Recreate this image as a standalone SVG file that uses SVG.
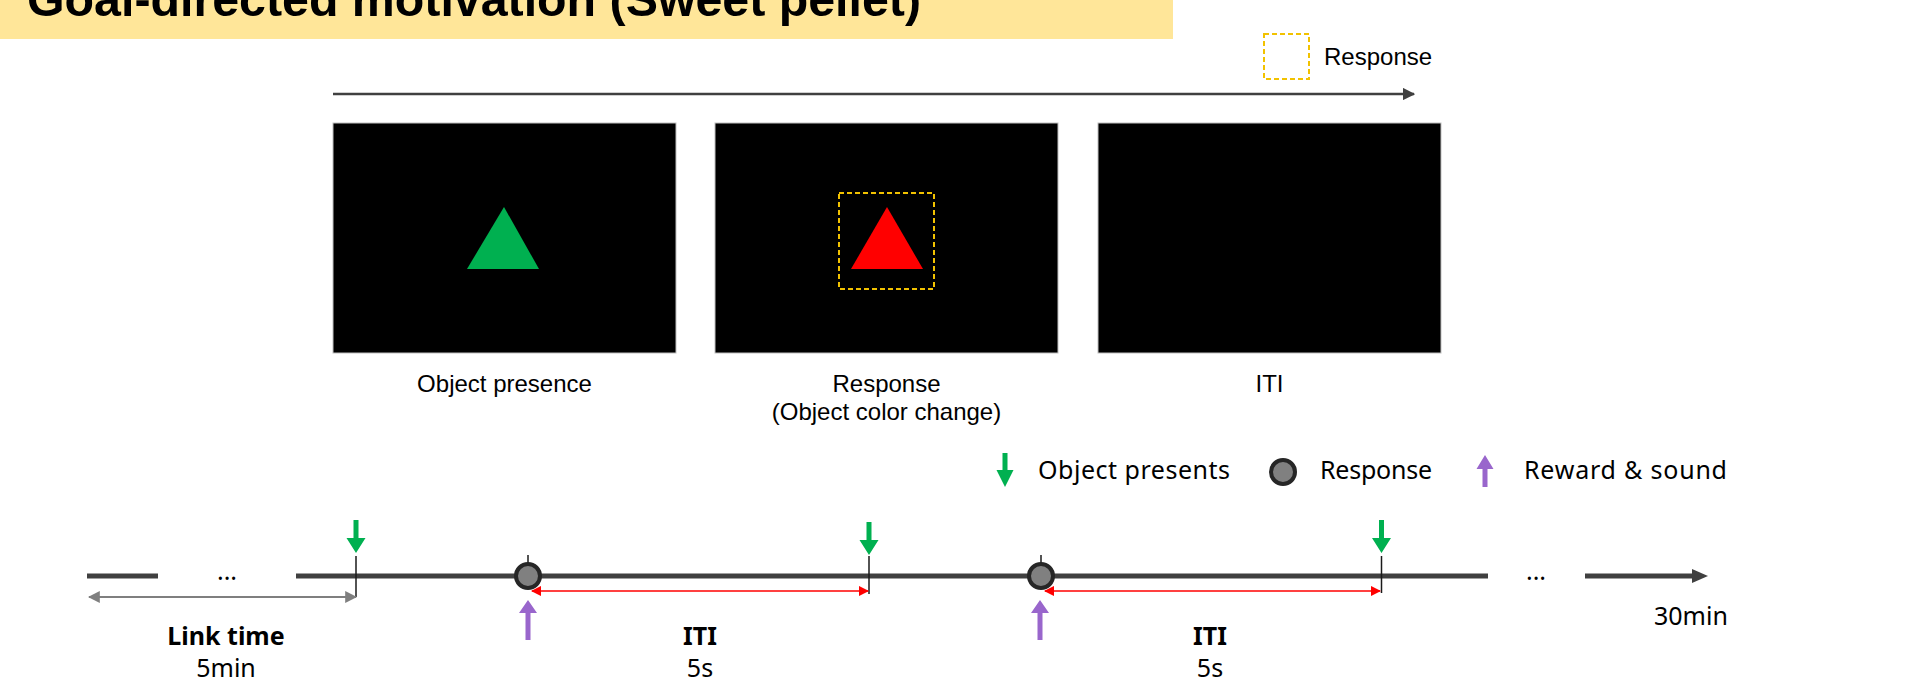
<svg xmlns="http://www.w3.org/2000/svg" width="1920" height="687" viewBox="0 0 1920 687">
<style>
.arial{font-family:"Liberation Sans",Arial,sans-serif;font-size:24px;fill:#000}
.noto{font-family:"Noto Sans","DejaVu Sans",sans-serif;font-size:25px;fill:#000}
.bold{font-weight:bold}
.panel{fill:#000;stroke:#BFBFBF;stroke-width:1}
.dash{fill:none;stroke:#F2C200;stroke-width:2;stroke-dasharray:5 3}
.tl{stroke:#404040;stroke-width:5;fill:none}
.tick{stroke:#1a1a1a;stroke-width:1.5}
.green{fill:#00B050}
.purple{fill:#9966CC}
.resp{fill:#808080;stroke:#262626;stroke-width:4}
</style>
<defs>
<marker id="ahDark" viewBox="0 0 10 10" refX="9" refY="5" markerWidth="5" markerHeight="5" orient="auto"><path d="M0,0 L10,5 L0,10 z" fill="#404040"/></marker>
<marker id="ahGray" viewBox="0 0 10 10" refX="9" refY="5" markerWidth="6" markerHeight="6" orient="auto-start-reverse"><path d="M0,0 L10,5 L0,10 z" fill="#7F7F7F"/></marker>
<marker id="ahRed" viewBox="0 0 10 10" refX="9" refY="5" markerWidth="7" markerHeight="7" orient="auto-start-reverse"><path d="M0,0 L10,5 L0,10 z" fill="#FF0000"/></marker>
</defs>
<rect width="1920" height="687" fill="#fff"/>

<g id="title">
<rect x="0" y="0" width="1173" height="39" fill="#FFE699"/>
<text x="27" y="16" font-family="Liberation Sans,Arial,sans-serif" font-size="48" font-weight="bold" textLength="894" lengthAdjust="spacingAndGlyphs">Goal-directed motivation (Sweet pellet)</text>
</g>

<g id="legend-top">
<rect class="dash" x="1264" y="34" width="45" height="45"/>
<text class="arial" x="1324" y="65">Response</text>
</g>

<g id="connectors">
<line x1="333" y1="94" x2="1414" y2="94" stroke="#404040" stroke-width="2.5" marker-end="url(#ahDark)"/>
<line class="tl" x1="87" y1="576" x2="158" y2="576"/>
<line class="tl" x1="296" y1="576" x2="1488" y2="576"/>
<line class="tl" x1="1585" y1="576" x2="1695" y2="576"/>
<polygon points="1692,569 1708,576 1692,583" fill="#404040"/>
<line class="tick" x1="356" y1="556" x2="356" y2="597"/>
<line class="tick" x1="869" y1="556" x2="869" y2="594"/>
<line class="tick" x1="1381.5" y1="556" x2="1381.5" y2="593"/>
<line class="tick" x1="528" y1="555" x2="528" y2="564"/>
<line class="tick" x1="1041" y1="555" x2="1041" y2="564"/>
<line x1="89" y1="597" x2="356" y2="597" stroke="#7F7F7F" stroke-width="2" marker-start="url(#ahGray)" marker-end="url(#ahGray)"/>
<line x1="532" y1="591" x2="868" y2="591" stroke="#FF0000" stroke-width="1.5" marker-start="url(#ahRed)" marker-end="url(#ahRed)"/>
<line x1="1045" y1="591" x2="1380" y2="591" stroke="#FF0000" stroke-width="1.5" marker-start="url(#ahRed)" marker-end="url(#ahRed)"/>
</g>

<g id="panel-object">
<rect class="panel" x="333" y="123" width="343" height="230"/>
<polygon points="504,207 467,269 539,269" fill="#00B050"/>
<text class="arial" x="504.5" y="392" text-anchor="middle">Object presence</text>
</g>

<g id="panel-response">
<rect class="panel" x="715" y="123" width="343" height="230"/>
<polygon points="887,207 851,269 923,269" fill="#FF0000"/>
<rect class="dash" x="839" y="193" width="95" height="96"/>
<text class="arial" x="886.5" y="392" text-anchor="middle">Response</text>
<text class="arial" x="886.5" y="420" text-anchor="middle">(Object color change)</text>
</g>

<g id="panel-iti">
<rect class="panel" x="1098" y="123" width="343" height="230"/>
<text class="arial" x="1269.5" y="392" text-anchor="middle">ITI</text>
</g>

<g id="legend-bottom">
<path class="green" d="M1002.5,453 h5 v17 h6 l-8.5,17 l-8.5,-17 h6 z"/>
<text class="noto" x="1038" y="479" textLength="192" lengthAdjust="spacing">Object presents</text>
<circle class="resp" cx="1283" cy="472" r="12"/>
<text class="noto" x="1320" y="479" textLength="112" lengthAdjust="spacing">Response</text>
<path class="purple" d="M1485,455 l8.5,14 h-6 v18 h-5 v-18 h-6 z"/>
<text class="noto" x="1524" y="479" textLength="203" lengthAdjust="spacing">Reward &amp; sound</text>
</g>

<g id="events">
<path class="green" d="M353.5,520 h5 v18 h7 l-9.5,15 l-9.5,-15 h7 z"/>
<path class="green" d="M866.5,522 h5 v18 h7 l-9.5,15 l-9.5,-15 h7 z"/>
<path class="green" d="M1379,520 h5 v18 h7 l-9.5,15 l-9.5,-15 h7 z"/>
<circle class="resp" cx="528" cy="576" r="12"/>
<circle class="resp" cx="1041" cy="576" r="12"/>
<path class="purple" d="M528,600 l9,13 h-6.5 v27 h-5 v-27 h-6.5 z"/>
<path class="purple" d="M1040,600 l9,13 h-6.5 v27 h-5 v-27 h-6.5 z"/>
</g>

<g id="labels">
<text class="noto" x="227" y="580" text-anchor="middle">...</text>
<text class="noto" x="1536" y="580" text-anchor="middle">...</text>
<text class="noto bold" x="226" y="645" text-anchor="middle">Link time</text>
<text class="noto" x="226" y="677" text-anchor="middle">5min</text>
<text class="noto bold" x="700" y="645" text-anchor="middle">ITI</text>
<text class="noto" x="700" y="677" text-anchor="middle">5s</text>
<text class="noto bold" x="1210" y="645" text-anchor="middle">ITI</text>
<text class="noto" x="1210" y="677" text-anchor="middle">5s</text>
<text class="noto" x="1654" y="625">30min</text>
</g>
</svg>
